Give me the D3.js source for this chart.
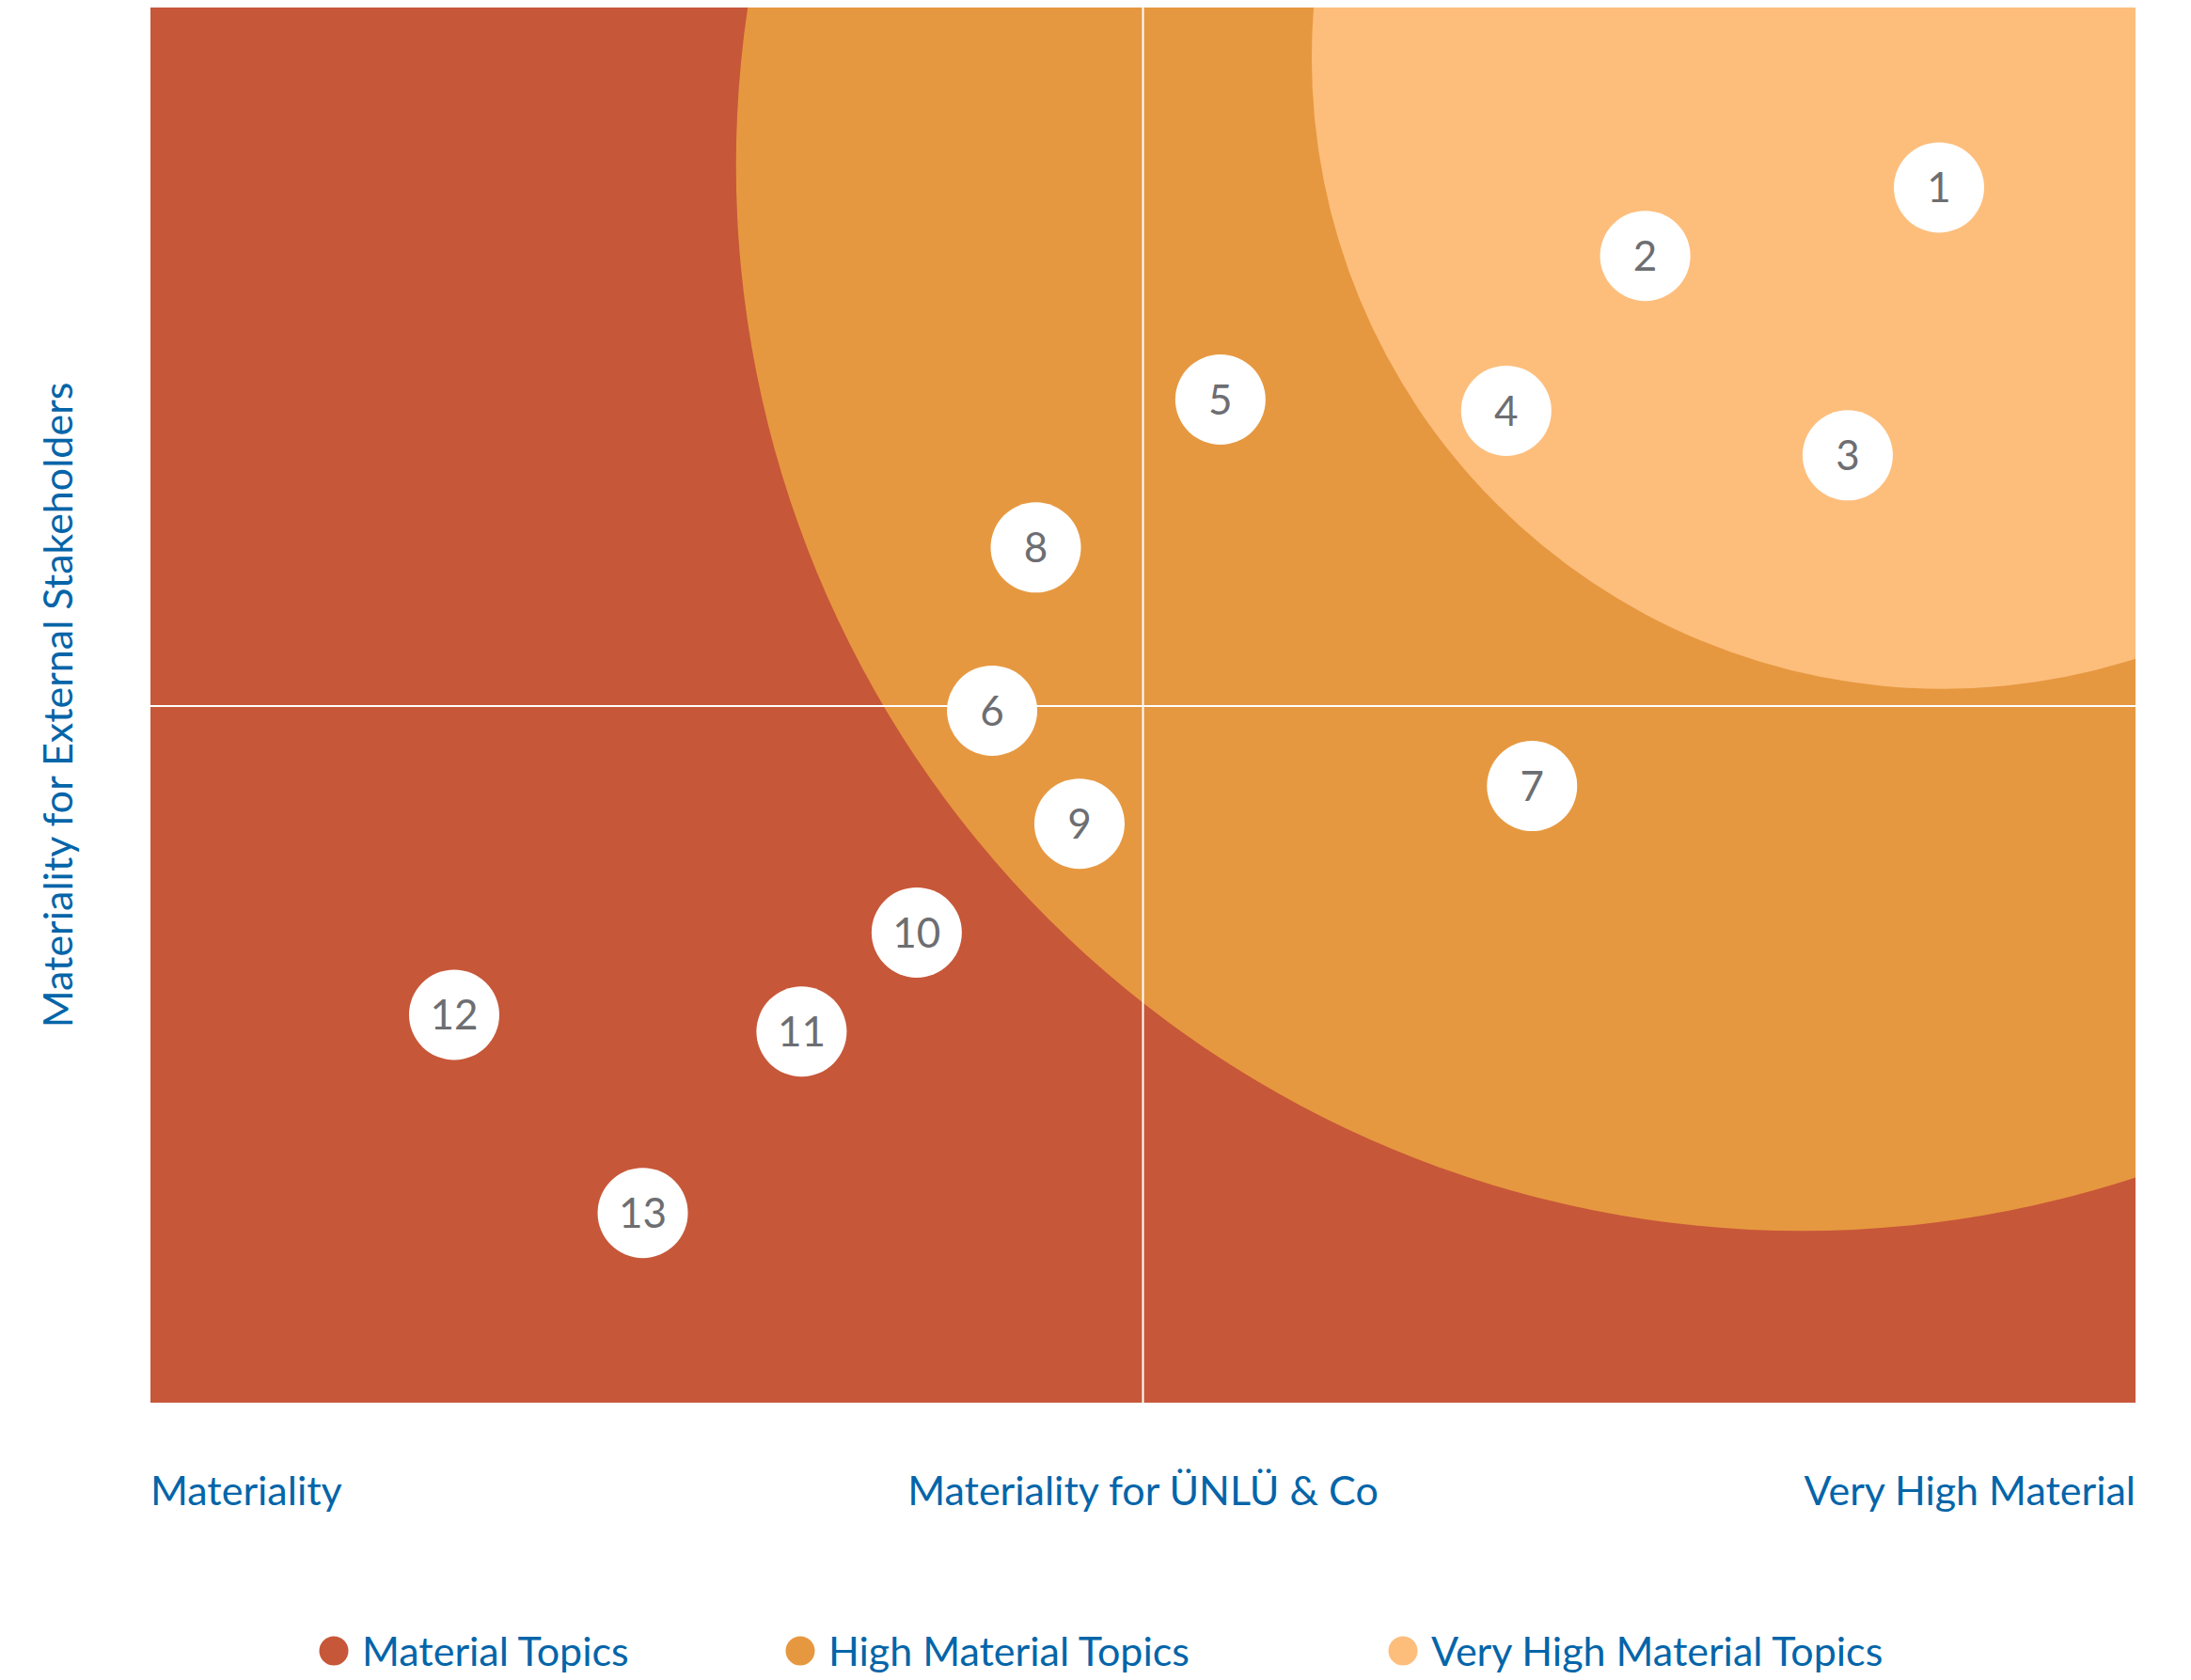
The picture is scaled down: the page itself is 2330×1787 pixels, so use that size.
<!DOCTYPE html>
<html>
<head>
<meta charset="utf-8">
<script src="https://cdn.jsdelivr.net/npm/d3@7"></script>
<style>
  body { margin: 0; background: #fff; }
  text { font-family: "Lato", "Open Sans", sans-serif; }
</style>
</head>
<body>
<figure style="margin:0"></figure>
<script>
// topics: number, materiality for ÜNLÜ & Co (x), materiality for external stakeholders (y), 0..100
const topicIds = [1, 2, 3, 4, 5, 6, 7, 8, 9, 10, 11, 12, 13];
const topicX = [90.1, 75.3, 85.5, 68.3, 53.9, 42.4, 69.6, 44.6, 46.8, 38.6, 32.8, 15.3, 24.8];
const topicY = [87.1, 82.2, 67.9, 71.1, 71.9, 49.6, 44.2, 61.3, 41.5, 33.7, 26.6, 27.8, 13.6];

// zones drawn as circles (centre in data units, radius in x units)
const zoneNames = ["High Material Topics", "Very High Material Topics"];
const zoneCx = [83.2, 90.3];
const zoneCy = [88.7, 96.4];
const zoneR = [53.7, 31.8];

const legendLabels = ["Material Topics", "High Material Topics", "Very High Material Topics"];
const xLabels = ["Materiality", "Materiality for ÜNLÜ & Co", "Very High Material"];
const yLabel = "Materiality for External Stakeholders";

const colors = ["#c75739", "#e69840", "#fdbe7c"];
const blue = "#0465a9";

const width = 2330, height = 1787;
const plot = {left: 160, top: 8, right: 2271, bottom: 1492};

const x = d3.scaleLinear().domain([0, 100]).range([plot.left, plot.right]);
const y = d3.scaleLinear().domain([0, 100]).range([plot.bottom, plot.top]);

const svg = d3.select("figure").append("svg")
    .attr("width", width)
    .attr("height", height);

svg.append("clipPath").attr("id", "plotclip")
  .append("rect")
    .attr("x", plot.left).attr("y", plot.top)
    .attr("width", plot.right - plot.left)
    .attr("height", plot.bottom - plot.top);

const g = svg.append("g").attr("clip-path", "url(#plotclip)");

// background = material topics
g.append("rect")
    .attr("x", plot.left).attr("y", plot.top)
    .attr("width", plot.right - plot.left)
    .attr("height", plot.bottom - plot.top)
    .attr("fill", colors[0]);

g.selectAll("circle.zone")
  .data(zoneNames)
  .join("circle")
    .attr("class", "zone")
    .attr("cx", (d, i) => x(zoneCx[i]))
    .attr("cy", (d, i) => y(zoneCy[i]))
    .attr("r", (d, i) => x(zoneR[i]) - x(0))
    .attr("fill", (d, i) => colors[i + 1]);

// quadrant lines
g.append("line")
    .attr("x1", x(50)).attr("x2", x(50))
    .attr("y1", plot.top).attr("y2", plot.bottom)
    .attr("stroke", "#fff").attr("stroke-width", 2);
g.append("line")
    .attr("x1", plot.left).attr("x2", plot.right)
    .attr("y1", y(50) + 1).attr("y2", y(50) + 1)
    .attr("stroke", "#fff").attr("stroke-width", 2);

// topic bubbles
const bubble = svg.append("g").selectAll("g")
  .data(topicIds)
  .join("g")
    .attr("transform", (d, i) => `translate(${x(topicX[i])},${y(topicY[i])})`);

bubble.append("circle")
    .attr("r", 48)
    .attr("fill", "#fff");

bubble.append("text")
    .attr("text-anchor", "middle")
    .attr("dy", "0.36em")
    .attr("font-size", 44)
    .attr("fill", "#6d6e72")
    .text(d => d);

// x labels
svg.selectAll("text.xlab")
  .data(xLabels)
  .join("text")
    .attr("class", "xlab")
    .attr("x", (d, i) => [x(0), x(50), x(100)][i])
    .attr("y", 1601)
    .attr("text-anchor", (d, i) => ["start", "middle", "end"][i])
    .attr("font-size", 43)
    .attr("fill", blue)
    .text(d => d);

// y label
svg.append("text")
    .attr("transform", `translate(77,${y(50)}) rotate(-90)`)
    .attr("text-anchor", "middle")
    .attr("font-size", 43)
    .attr("fill", blue)
    .text(yLabel);

// legend
const legendX = [355, 851, 1492];
const legend = svg.append("g").selectAll("g")
  .data(legendLabels)
  .join("g")
    .attr("transform", (d, i) => `translate(${legendX[i]},1756)`);

legend.append("circle")
    .attr("r", 15.5)
    .attr("fill", (d, i) => colors[i]);

legend.append("text")
    .attr("x", 30)
    .attr("y", 16)
    .attr("font-size", 43)
    .attr("fill", blue)
    .text(d => d);
</script>
</body>
</html>
